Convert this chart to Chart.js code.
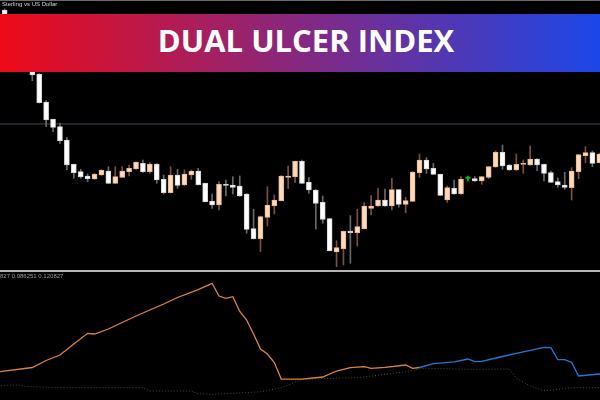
<!DOCTYPE html>
<html>
<head>
<meta charset="utf-8">
<script src="https://cdn.jsdelivr.net/npm/chart.js@4.4.1/dist/chart.umd.min.js"></script>
<style>
  body { margin: 0; background: #000; width: 600px; height: 400px; overflow: hidden; position: relative; font-family: 'Liberation Sans', sans-serif; }
  #pricePane { position: absolute; left: 0; top: 0; width: 600px; height: 270px; }
  #ulcerPane { position: absolute; left: 0; top: 272px; width: 600px; height: 128px; }
  #sep { position: absolute; left: 0; top: 270px; width: 600px; height: 2px; background: #b4b4b4; }
  #topLine { position: absolute; left: 0; top: 0; width: 600px; height: 1px; background: #6a6a6a; }
  #symbol { position: absolute; left: 2px; top: 1px; font-size: 6px; color: #d8d8d8; }
  #ulcerText { position: absolute; left: 0; top: 273px; font-size: 6px; color: #9a9a9a; }
  #banner {
    position: absolute; left: 0; top: 14px; width: 600px; height: 58px;
    background: linear-gradient(90deg, #ee0a18 0%, #1c47e8 100%);
    display: flex; align-items: center; justify-content: center;
  }
  #banner span { color: #fff; font-family: 'Open Sans', sans-serif; font-weight: 700; font-size: 31px; padding-left: 12px; padding-bottom: 6px; }
</style>
</head>
<body>
<div id="pricePane"><canvas id="priceChart"></canvas></div>
<div id="sep"></div>
<div id="ulcerPane"><canvas id="ulcerChart"></canvas></div>
<div id="topLine"></div>
<div id="symbol">Sterling vs US Dollar</div>
<div id="ulcerText">827 0.086251 0.120827</div>
<div id="banner"><span>DUAL ULCER INDEX</span></div>
<script>
// GBPUSD bars, one per index
const openPrices = [
  1.32900, 1.32700, 1.32550, 1.32430, 1.32340, 1.32257, 1.31980, 1.31807, 1.31733, 1.31600,
  1.31357, 1.31283, 1.31240, 1.31210, 1.31250, 1.31290, 1.31167, 1.31227, 1.31283, 1.31310,
  1.31367, 1.31283, 1.31360, 1.31207, 1.31073, 1.31250, 1.31150, 1.31250, 1.31290, 1.31167,
  1.30990, 1.30950, 1.31157, 1.31150, 1.31140, 1.31060, 1.30713, 1.30613, 1.30827, 1.30940,
  1.30993, 1.31227, 1.31233, 1.31387, 1.31177, 1.31100, 1.30977, 1.30813, 1.30480, 1.30513,
  1.30690, 1.30673, 1.30713, 1.30917, 1.30940, 1.31000, 1.30940, 1.31103, 1.30957, 1.30987,
  1.31273, 1.31400, 1.31317, 1.31257, 1.31000, 1.31117, 1.31060, 1.31217, 1.31213, 1.31190,
  1.31227, 1.31330, 1.31477, 1.31350, 1.31300, 1.31357, 1.31350, 1.31410, 1.31357, 1.31273,
  1.31183, 1.31150, 1.31123, 1.31283, 1.31443, 1.31473, 1.31373
]
const closePrices = [
  1.32700, 1.32550, 1.32420, 1.32340, 1.32250, 1.31973, 1.31800, 1.31727, 1.31593, 1.31350,
  1.31273, 1.31233, 1.31213, 1.31257, 1.31297, 1.31167, 1.31233, 1.31290, 1.31317, 1.31377,
  1.31283, 1.31360, 1.31200, 1.31073, 1.31250, 1.31147, 1.31260, 1.31290, 1.31153, 1.30983,
  1.30950, 1.31157, 1.31147, 1.31127, 1.31040, 1.30707, 1.30613, 1.30833, 1.30950, 1.31000,
  1.31240, 1.31240, 1.31387, 1.31167, 1.31100, 1.30967, 1.30807, 1.30493, 1.30523, 1.30687,
  1.30673, 1.30733, 1.30940, 1.30940, 1.31000, 1.30940, 1.31103, 1.30957, 1.30993, 1.31280,
  1.31400, 1.31310, 1.31257, 1.31047, 1.31123, 1.31060, 1.31210, 1.31217, 1.31190, 1.31233,
  1.31333, 1.31477, 1.31340, 1.31300, 1.31357, 1.31363, 1.31410, 1.31350, 1.31267, 1.31177,
  1.31150, 1.31127, 1.31290, 1.31453, 1.31473, 1.31367, 1.31460
]
const highPrices = [
  1.32910, 1.32730, 1.32580, 1.32450, 1.32360, 1.32265, 1.31993, 1.31810, 1.31767, 1.31627,
  1.31360, 1.31307, 1.31260, 1.31267, 1.31305, 1.31333, 1.31333, 1.31333, 1.31350, 1.31383,
  1.31400, 1.31373, 1.31365, 1.31250, 1.31333, 1.31307, 1.31300, 1.31300, 1.31317, 1.31170,
  1.31060, 1.31183, 1.31200, 1.31233, 1.31240, 1.31065, 1.30907, 1.30840, 1.31133, 1.31050,
  1.31245, 1.31340, 1.31390, 1.31400, 1.31223, 1.31105, 1.31040, 1.30815, 1.30593, 1.30690,
  1.30843, 1.30907, 1.30973, 1.31043, 1.31117, 1.31110, 1.31217, 1.31105, 1.31027, 1.31285,
  1.31460, 1.31423, 1.31367, 1.31260, 1.31140, 1.31200, 1.31233, 1.31240, 1.31233, 1.31235,
  1.31335, 1.31490, 1.31550, 1.31355, 1.31460, 1.31400, 1.31540, 1.31415, 1.31360, 1.31290,
  1.31220, 1.31277, 1.31323, 1.31455, 1.31533, 1.31490, 1.31470
]
const lowPrices = [
  1.32660, 1.32520, 1.32400, 1.32310, 1.32193, 1.31970, 1.31733, 1.31683, 1.31567, 1.31300,
  1.31217, 1.31217, 1.31183, 1.31205, 1.31245, 1.31165, 1.31165, 1.31225, 1.31240, 1.31307,
  1.31273, 1.31267, 1.31167, 1.31060, 1.31070, 1.31117, 1.31145, 1.31207, 1.31150, 1.30980,
  1.30917, 1.30900, 1.31040, 1.31060, 1.31035, 1.30667, 1.30610, 1.30483, 1.30740, 1.30860,
  1.30990, 1.31117, 1.31173, 1.31165, 1.31067, 1.30710, 1.30767, 1.30490, 1.30333, 1.30350,
  1.30367, 1.30540, 1.30710, 1.30850, 1.30935, 1.30935, 1.30900, 1.30927, 1.30873, 1.30985,
  1.31227, 1.31267, 1.31255, 1.31045, 1.30977, 1.31055, 1.31055, 1.31190, 1.31185, 1.31157,
  1.31213, 1.31325, 1.31307, 1.31295, 1.31295, 1.31267, 1.31345, 1.31293, 1.31190, 1.31175,
  1.31127, 1.31107, 1.31000, 1.31213, 1.31373, 1.31333, 1.31370
]
const levelPrice = 1.31760

// ulcer index lines (bar index, value)
const upBars = [-1, 4, 6, 8, 10, 12, 13, 15, 17, 19, 21, 23, 25, 28, 30, 31, 32, 33, 34, 35, 36, 37, 38, 39, 40, 43, 46, 48, 50, 52, 53, 55, 58, 59, 60]
const upValues = [0.0280, 0.0325, 0.0395, 0.0450, 0.0560, 0.0667, 0.0660, 0.0710, 0.0775, 0.0840, 0.0900, 0.0960, 0.1025, 0.1103, 0.1167, 0.1040, 0.1017, 0.1033, 0.0885, 0.0800, 0.0660, 0.0510, 0.0460, 0.0375, 0.0210, 0.0208, 0.0230, 0.0290, 0.0323, 0.0333, 0.0317, 0.0327, 0.0350, 0.0317, 0.0325]
const downBars = [60, 62, 65, 67, 68, 69, 72, 74, 77, 78, 79, 80, 81, 82, 83, 86, 87]
const downValues = [0.0325, 0.0363, 0.0382, 0.0410, 0.0383, 0.0387, 0.0435, 0.0467, 0.0512, 0.0527, 0.0523, 0.0403, 0.0403, 0.0375, 0.0240, 0.0260, 0.0262]
const signalBars = [-1, 1, 2, 3, 9, 20, 21, 27, 28, 30, 33, 37, 40, 43, 46, 51, 55, 58, 60, 61, 65, 68, 73, 74, 76, 78, 79, 82, 87]
const signalValues = [0.0143, 0.0150, 0.0150, 0.0135, 0.0123, 0.0123, 0.0090, 0.0090, 0.0063, 0.0057, 0.0067, 0.0082, 0.0123, 0.0205, 0.0214, 0.0223, 0.0256, 0.0282, 0.0312, 0.0317, 0.0310, 0.0307, 0.0310, 0.0217, 0.0140, 0.0093, 0.0098, 0.0123, 0.0123]

function kind(i) {
  if (closePrices[i] === openPrices[i]) return 'doji'
  return closePrices[i] > openPrices[i] ? 'bull' : 'bear'
}
const bodyColors = { bull: '#ffdab9', bear: '#ffffff', doji: '#00c800' }
const edgeColors = { bull: '#e6b894', bear: '#d8d8d8', doji: '#00c800' }
const wickColors = { bull: '#7a4f44', bear: '#6a6a6a', doji: '#00c800' }

const xRange = {
  type: 'linear',
  display: false,
  offset: false,
  grid: { offset: false },
  min: -0.671,
  max: 86.1,
}

let bodies = openPrices.map((o, i) => ({ x: i, y: [o, closePrices[i]] }))
let wicks = openPrices.map((o, i) => ({ x: i, y: [lowPrices[i], highPrices[i]] }))

let priceConfig = {
  type: 'bar',
  data: {
    datasets: [
      {
        label: 'body',
        data: bodies,
        backgroundColor: bodies.map((b, i) => bodyColors[kind(i)]),
        borderColor: bodies.map((b, i) => edgeColors[kind(i)]),
        borderWidth: 1,
        borderSkipped: false,
        barThickness: 5,
        minBarLength: 1,
        grouped: false,
        order: 1,
      },
      {
        label: 'wick',
        data: wicks,
        backgroundColor: wicks.map((w, i) => wickColors[kind(i)]),
        borderWidth: 0,
        barThickness: 1,
        grouped: false,
        order: 2,
      },
      {
        type: 'line',
        label: 'level',
        data: [{ x: -2, y: levelPrice }, { x: 90, y: levelPrice }],
        borderColor: '#3c4a55',
        borderWidth: 1,
        pointRadius: 0,
        order: 3,
      },
    ],
  },
  options: {
    responsive: true,
    maintainAspectRatio: false,
    animation: false,
    layout: { padding: 0 },
    scales: {
      x: xRange,
      y: { display: false, min: 1.303, max: 1.33 },
    },
    plugins: { legend: { display: false }, tooltip: { enabled: false } },
  },
}

let ulcerConfig = {
  type: 'line',
  data: {
    datasets: [
      {
        label: 'up',
        data: upBars.map((b, i) => ({ x: b, y: upValues[i] })),
        borderColor: '#dd8440',
        borderWidth: 1.3,
        pointRadius: 0,
        tension: 0,
      },
      {
        label: 'down',
        data: downBars.map((b, i) => ({ x: b, y: downValues[i] })),
        borderColor: '#1f7ad8',
        borderWidth: 1.3,
        pointRadius: 0,
        tension: 0,
      },
      {
        label: 'signal',
        data: signalBars.map((b, i) => ({ x: b, y: signalValues[i] })),
        borderColor: '#4a4a4a',
        borderWidth: 1,
        borderDash: [1, 2],
        pointRadius: 0,
        tension: 0,
      },
    ],
  },
  options: {
    responsive: true,
    maintainAspectRatio: false,
    animation: false,
    layout: { padding: 0 },
    scales: {
      x: xRange,
      y: { display: false, min: 0, max: 0.128 },
    },
    plugins: { legend: { display: false }, tooltip: { enabled: false } },
  },
}

let priceChart = new Chart(document.getElementById('priceChart'), priceConfig)
let ulcerChart = new Chart(document.getElementById('ulcerChart'), ulcerConfig)
</script>
</body>
</html>
